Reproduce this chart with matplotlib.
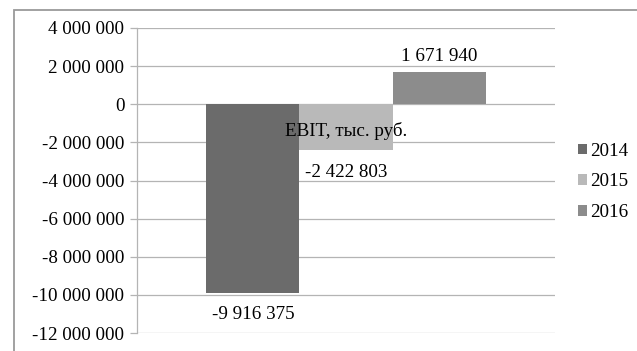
import matplotlib.pyplot as plt
from matplotlib.ticker import FuncFormatter, MultipleLocator
from matplotlib.patches import Rectangle

years = ['2014', '2015', '2016']
ebit = [-9916375, -2422803, 1671940]
colors = ['#6b6b6b', '#b9b9b9', '#8c8c8c']
category = 'EBIT, тыс. руб.'

plt.rcParams['font.family'] = ['Liberation Serif', 'DejaVu Serif']
fs = 13.7

def fmt(v, pos=None):
    return f'{v:,.0f}'.replace(',', ' ')

fig = plt.figure(figsize=(6.37, 3.51), dpi=100)
ax = fig.add_axes([137 / 637, 1 - 333 / 351, (555 - 137) / 637, (333 - 28) / 351])

# рамка области диаграммы: правый и нижний края за пределами картинки
frame = Rectangle((13.5 / 637, -0.05), 1.0, 1.05 - 9.5 / 351, transform=fig.transFigure,
                  fill=False, edgecolor='#9a9a9a', lw=1.3, zorder=10)
fig.add_artist(frame)

w = 0.2225
for i, (yr, v, c) in enumerate(zip(years, ebit, colors)):
    bars = ax.bar(0.5 + (i - 1) * w, v, width=w, color=c, label=yr, zorder=2)
    ax.bar_label(bars, labels=[fmt(v)], padding=5.5 if v > 0 else 9.5, fontsize=fs)

ax.set_xlim(0, 1)
ax.set_ylim(-12000000, 4000000)
ax.yaxis.set_major_locator(MultipleLocator(2000000))
ax.yaxis.set_major_formatter(FuncFormatter(fmt))
ax.grid(axis='y', color='#b4b4b4', lw=0.9, zorder=0)
ax.set_axisbelow(True)

ax.set_xticks([])
ax.annotate(category, xy=(0.5, 0), xytext=(0, -19), textcoords='offset points',
            ha='center', va='center', fontsize=fs, zorder=5)
for s in ['bottom', 'top', 'right']:
    ax.spines[s].set_visible(False)
ax.spines['left'].set_color('#b4b4b4')
ax.spines['left'].set_linewidth(0.9)
ax.tick_params(axis='y', length=5, width=0.9, color='#b4b4b4', pad=4, labelsize=fs)

ax.legend(loc='center left', bbox_to_anchor=(570 / 637, 1 - 182 / 351), bbox_transform=fig.transFigure,
          frameon=False, fontsize=fs, handlelength=0.5, handleheight=0.5, handletextpad=0.15,
          labelspacing=0.72, borderaxespad=0)

plt.savefig('out.png', dpi=100)
